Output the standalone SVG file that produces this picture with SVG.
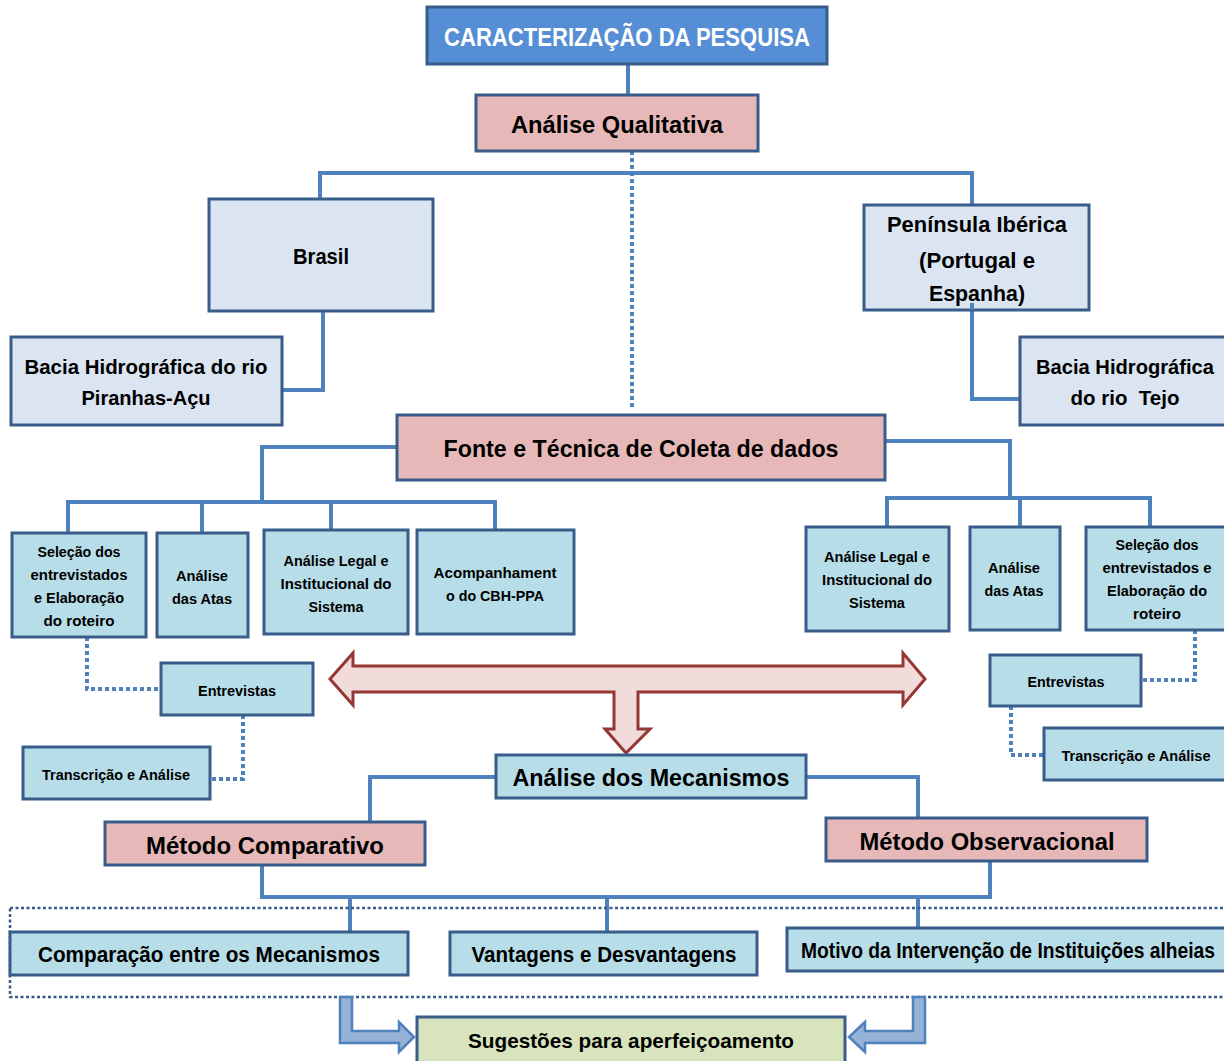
<svg xmlns="http://www.w3.org/2000/svg" width="1224" height="1061" viewBox="0 0 1224 1061">
<style>
text{font-family:"Liberation Sans",Arial,sans-serif;font-weight:bold;fill:#000;text-anchor:middle}
.b{stroke:#385d8a;stroke-width:3}
.title{fill:#558ed5}
.pink{fill:#e6b9b8}
.gray{fill:#dbe5f1}
.cyan{fill:#b7dde8}
.green{fill:#d7e4bd}
.c{fill:none;stroke:#4f81bd;stroke-width:4}
.d{fill:none;stroke:#4f81bd;stroke-width:4;stroke-dasharray:4 3}
.s{font-size:14px}
</style>
<rect width="1224" height="1061" fill="#fff"/>
<g id="connectors">
<path class="c" d="M628 64V95"/>
<path class="d" d="M632 151V410"/>
<path class="c" d="M320 199V173H972V205"/>
<path class="c" d="M323 311V390H282"/>
<path class="c" d="M972 310V399H1020"/>
<path class="c" d="M397 447H262V502M68 533V502H495V530M202 502V533M331 502V530"/>
<path class="c" d="M885 441H1010V498M887 527V498H1150V527M1020 498V527"/>
<path class="d" d="M87 637V689H161"/>
<path class="d" d="M243 715V779H210"/>
<path class="d" d="M1195 630V680H1141"/>
<path class="d" d="M1011 706V755H1044"/>
<path class="c" d="M496 777H370V822M806 777H918V818"/>
<path class="c" d="M262 865V897H990V861M350 897V932M607 897V932M918 897V928"/>
<rect x="10" y="908" width="1230" height="89" fill="none" stroke="#385d8a" stroke-width="2.5" stroke-dasharray="3 2.5"/>
<path d="M330 679L353 653V666H903V653L925 679L903 705V692H638V729H650L626 753L605 729H614V692H353V705Z" fill="#f2dcdb" stroke="#953735" stroke-width="3" stroke-linejoin="miter"/>
<path d="M340 997H352V1031H399V1022L414 1037L399 1052V1043H340Z" fill="#95b3d7" stroke="#4f81bd" stroke-width="2.5"/>
<path d="M925 997H913V1031H865V1022L849 1037L865 1052V1043H925Z" fill="#95b3d7" stroke="#4f81bd" stroke-width="2.5"/>
</g>
<g id="n-title"><rect class="b title" x="427" y="7" width="400" height="57"/><text x="627" y="46" font-size="25" style="fill:#fff" textLength="366" lengthAdjust="spacingAndGlyphs">CARACTERIZAÇÃO DA PESQUISA</text></g>
<g id="n-qual"><rect class="b pink" x="476" y="95" width="282" height="56"/><text x="617" y="133" font-size="24" textLength="212" lengthAdjust="spacingAndGlyphs">Análise Qualitativa</text></g>
<g id="n-brasil"><rect class="b gray" x="209" y="199" width="224" height="112"/><text x="321" y="264" font-size="22" textLength="56" lengthAdjust="spacingAndGlyphs">Brasil</text></g>
<g id="n-bacia-pa"><rect class="b gray" x="11" y="337" width="271" height="88"/><text x="146" y="374" font-size="21" textLength="243" lengthAdjust="spacingAndGlyphs">Bacia Hidrográfica do rio</text><text x="146" y="405" font-size="21" textLength="129" lengthAdjust="spacingAndGlyphs">Piranhas-Açu</text></g>
<g id="n-iberica"><rect class="b gray" x="864" y="205" width="225" height="105"/><text x="977" y="232" font-size="22" textLength="180" lengthAdjust="spacingAndGlyphs">Península Ibérica</text><text x="977" y="268" font-size="22" textLength="116" lengthAdjust="spacingAndGlyphs">(Portugal e</text><text x="977" y="301" font-size="22" textLength="96" lengthAdjust="spacingAndGlyphs">Espanha)</text><path class="c" d="M972 303V310"/></g>
<g id="n-bacia-tejo"><rect class="b gray" x="1020" y="337" width="215" height="88"/><text x="1125" y="374" font-size="21" textLength="178" lengthAdjust="spacingAndGlyphs">Bacia Hidrográfica</text><text x="1125" y="405" font-size="21" textLength="109" lengthAdjust="spacingAndGlyphs" style="white-space:pre">do rio  Tejo</text></g>
<g id="n-fonte"><rect class="b pink" x="397" y="415" width="488" height="65"/><text x="641" y="457" font-size="24" textLength="395" lengthAdjust="spacingAndGlyphs">Fonte e Técnica de Coleta de dados</text></g>
<g id="n-sel-l"><rect class="b cyan" x="12" y="533" width="134" height="104"/><text class="s" x="79" y="557" textLength="83" lengthAdjust="spacingAndGlyphs">Seleção dos</text><text class="s" x="79" y="580" textLength="97" lengthAdjust="spacingAndGlyphs">entrevistados</text><text class="s" x="79" y="603" textLength="90" lengthAdjust="spacingAndGlyphs">e Elaboração</text><text class="s" x="79" y="626" textLength="71" lengthAdjust="spacingAndGlyphs">do roteiro</text></g>
<g id="n-atas-l"><rect class="b cyan" x="157" y="533" width="91" height="104"/><text class="s" x="202" y="581" textLength="52" lengthAdjust="spacingAndGlyphs">Análise</text><text class="s" x="202" y="604" textLength="60" lengthAdjust="spacingAndGlyphs">das Atas</text></g>
<g id="n-legal-l"><rect class="b cyan" x="264" y="530" width="144" height="104"/><text class="s" x="336" y="566" textLength="105" lengthAdjust="spacingAndGlyphs">Análise Legal e</text><text class="s" x="336" y="589" textLength="111" lengthAdjust="spacingAndGlyphs">Institucional do</text><text class="s" x="336" y="612" textLength="55" lengthAdjust="spacingAndGlyphs">Sistema</text></g>
<g id="n-acomp"><rect class="b cyan" x="417" y="530" width="157" height="104"/><text class="s" x="495" y="578" textLength="123" lengthAdjust="spacingAndGlyphs">Acompanhament</text><text class="s" x="495" y="601" textLength="98" lengthAdjust="spacingAndGlyphs">o do CBH-PPA</text></g>
<g id="n-legal-r"><rect class="b cyan" x="806" y="527" width="143" height="104"/><text class="s" x="877" y="562" textLength="106" lengthAdjust="spacingAndGlyphs">Análise Legal e</text><text class="s" x="877" y="585" textLength="110" lengthAdjust="spacingAndGlyphs">Institucional do</text><text class="s" x="877" y="608" textLength="56" lengthAdjust="spacingAndGlyphs">Sistema</text></g>
<g id="n-atas-r"><rect class="b cyan" x="970" y="527" width="90" height="103"/><text class="s" x="1014" y="573" textLength="52" lengthAdjust="spacingAndGlyphs">Análise</text><text class="s" x="1014" y="596" textLength="59" lengthAdjust="spacingAndGlyphs">das Atas</text></g>
<g id="n-sel-r"><rect class="b cyan" x="1086" y="527" width="150" height="103"/><text class="s" x="1157" y="550" textLength="83" lengthAdjust="spacingAndGlyphs">Seleção dos</text><text class="s" x="1157" y="573" textLength="109" lengthAdjust="spacingAndGlyphs">entrevistados e</text><text class="s" x="1157" y="596" textLength="100" lengthAdjust="spacingAndGlyphs">Elaboração do</text><text class="s" x="1157" y="619" textLength="48" lengthAdjust="spacingAndGlyphs">roteiro</text></g>
<g id="n-entr-l"><rect class="b cyan" x="161" y="663" width="152" height="52"/><text class="s" x="237" y="696" textLength="78" lengthAdjust="spacingAndGlyphs">Entrevistas</text></g>
<g id="n-trans-l"><rect class="b cyan" x="23" y="747" width="187" height="52"/><text class="s" x="116" y="780" textLength="148" lengthAdjust="spacingAndGlyphs">Transcrição e Análise</text></g>
<g id="n-entr-r"><rect class="b cyan" x="990" y="655" width="151" height="51"/><text class="s" x="1066" y="687" textLength="77" lengthAdjust="spacingAndGlyphs">Entrevistas</text></g>
<g id="n-trans-r"><rect class="b cyan" x="1044" y="728" width="192" height="52"/><text class="s" x="1136" y="761" textLength="149" lengthAdjust="spacingAndGlyphs">Transcrição e Análise</text></g>
<g id="n-mecan"><rect class="b cyan" x="496" y="755" width="310" height="43"/><text x="651" y="786" font-size="24" textLength="277" lengthAdjust="spacingAndGlyphs">Análise dos Mecanismos</text></g>
<g id="n-comp"><rect class="b pink" x="105" y="822" width="320" height="43"/><text x="265" y="854" font-size="24" textLength="238" lengthAdjust="spacingAndGlyphs">Método Comparativo</text></g>
<g id="n-obs"><rect class="b pink" x="826" y="818" width="321" height="43"/><text x="987" y="850" font-size="24" textLength="255" lengthAdjust="spacingAndGlyphs">Método Observacional</text></g>
<g id="n-compar"><rect class="b cyan" x="10" y="932" width="398" height="43"/><text x="209" y="962" font-size="22" textLength="342" lengthAdjust="spacingAndGlyphs">Comparação entre os Mecanismos</text></g>
<g id="n-vant"><rect class="b cyan" x="450" y="932" width="307" height="43"/><text x="604" y="962" font-size="22" textLength="265" lengthAdjust="spacingAndGlyphs">Vantagens e Desvantagens</text></g>
<g id="n-motivo"><rect class="b cyan" x="787" y="928" width="450" height="43"/><text x="1008" y="958" font-size="22" textLength="414" lengthAdjust="spacingAndGlyphs">Motivo da Intervenção de Instituições alheias</text></g>
<g id="n-sug"><rect class="b green" x="417" y="1017" width="428" height="50"/><text x="631" y="1048" font-size="21" textLength="326" lengthAdjust="spacingAndGlyphs">Sugestões para aperfeiçoamento</text></g>
</svg>
